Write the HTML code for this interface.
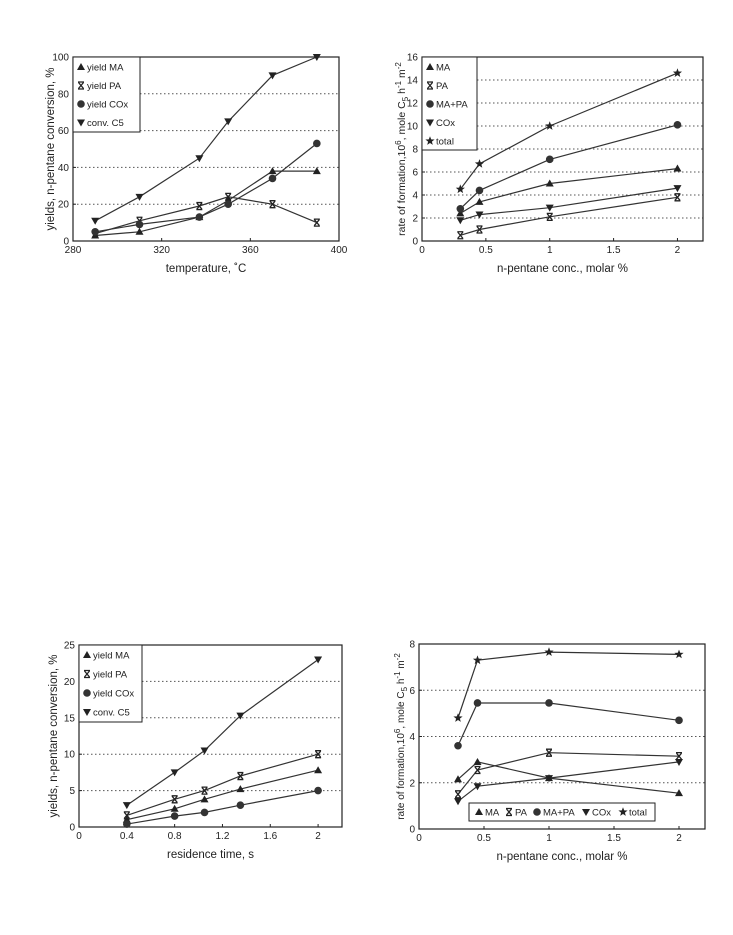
<!DOCTYPE html>
<html><head><meta charset="utf-8"><style>
body{margin:0;background:#fff;}
svg{display:block;font-family:"Liberation Sans",sans-serif;}
</style></head><body>
<svg id="s" width="733" height="935" viewBox="0 0 733 935"></svg>
<script>
// Chart 1 data
const c1Temps=[290,310,337,350,370,390];
const c1MA=[3,5,13,22,38,38];
const c1PA=[4,11,19,24,20,10];
const c1COx=[5,9,13,20,34,53];
const c1Conv=[11,24,45,65,90,100];
const c1XTicks=[280,320,360,400];
const c1YTicks=[0,20,40,60,80,100];
// Chart 2 data
const c2Conc=[0.3,0.45,1,2];
const c2MA=[2.4,3.4,5.0,6.3];
const c2PA=[0.5,1.0,2.1,3.8];
const c2MAPA=[2.8,4.4,7.1,10.1];
const c2COx=[1.8,2.3,2.9,4.6];
const c2Total=[4.5,6.7,10,14.6];
const c2XTicks=[0,0.5,1,1.5,2];
const c2YTicks=[0,2,4,6,8,10,12,14,16];
// Chart 3 data
const c3Time=[0.4,0.8,1.05,1.35,2];
const c3MA=[1.0,2.5,3.8,5.2,7.8];
const c3PA=[1.6,3.8,5.0,7.0,10.0];
const c3COx=[0.4,1.5,2.0,3.0,5.0];
const c3Conv=[3.0,7.5,10.5,15.3,23];
const c3XTicks=[0,0.4,0.8,1.2,1.6,2];
const c3YTicks=[0,5,10,15,20,25];
// Chart 4 data
const c4Conc=[0.3,0.45,1,2];
const c4MA=[2.15,2.9,2.2,1.55];
const c4PA=[1.5,2.55,3.3,3.15];
const c4MAPA=[3.6,5.45,5.45,4.7];
const c4COx=[1.2,1.85,2.2,2.9];
const c4Total=[4.8,7.3,7.65,7.55];
const c4XTicks=[0,0.5,1,1.5,2];
const c4YTicks=[0,2,4,6,8];

const NS="http://www.w3.org/2000/svg";
const svg=document.getElementById('s');
function mk(tag,attrs,parent,txt){const e=document.createElementNS(NS,tag);for(const k in attrs)e.setAttribute(k,attrs[k]);if(txt!==undefined)e.textContent=txt;(parent||svg).appendChild(e);return e;}
function marker(g,type,x,y){
  let e;
  if(type==='up'){e=mk('polygon',{points:`${x},${y-4} ${x-4},${y+3} ${x+4},${y+3}`,fill:'#222'},g);}
  else if(type==='down'){e=mk('polygon',{points:`${x},${y+4} ${x-4},${y-3} ${x+4},${y-3}`,fill:'#222'},g);}
  else if(type==='circle'){e=mk('circle',{cx:x,cy:y,r:3.8,fill:'#333'},g);}
  else if(type==='star'){let p=[];for(let i=0;i<10;i++){const r=i%2?2:4.8;const a=-Math.PI/2+i*Math.PI/5;p.push((x+r*Math.cos(a)).toFixed(1)+','+(y+r*Math.sin(a)).toFixed(1));}e=mk('polygon',{points:p.join(' '),fill:'#222'},g);}
  else {e=mk('path',{d:`M${x-3},${y-3.5}H${x+3}M${x-3},${y+3.5}H${x+3}M${x-2.5},${y-3}L${x+2.5},${y+3}M${x+2.5},${y-3}L${x-2.5},${y+3}`,stroke:'#222','stroke-width':1.3,fill:'none'},g);}
  
  
}
function chart(o){
  const g=mk('g',{},svg);
  
  
  const X=v=>o.L+(v-o.xmin)/(o.xmax-o.xmin)*(o.R-o.L);
  const Y=v=>o.B-(v-o.ymin)/(o.ymax-o.ymin)*(o.B-o.T);
  // grid
  o.yt.forEach(v=>{if(v===o.ymin||v===o.ymax)return;const y=Y(v);let x0=o.L;
    if(o.leg&&y>=o.leg.y&&y<=o.leg.y+o.leg.h)x0=o.leg.x+o.leg.w;
    const gl=mk('line',{x1:x0,x2:o.R,y1:y,y2:y,stroke:'#555','stroke-width':1,'stroke-dasharray':'1.5,2.5'},g);
    
    });
  const fr=mk('rect',{x:o.L,y:o.T,width:o.R-o.L,height:o.B-o.T,fill:'none',stroke:'#222','stroke-width':1.2},g);
  
  
  o.yt.forEach(v=>{const y=Y(v);mk('line',{x1:o.L,x2:o.L+3,y1:y,y2:y,stroke:'#222'},g);
    const t=mk('text',{x:o.L-4,y:y+3.5,'text-anchor':'end','font-size':10,fill:'#222'},g,String(v));
    
    });
  o.xt.forEach(v=>{const x=X(v);mk('line',{x1:x,x2:x,y1:o.B,y2:o.B-3,stroke:'#222'},g);
    const t=mk('text',{x:x,y:o.B+12,'text-anchor':'middle','font-size':10,fill:'#222'},g,String(v));
    
    });
  const xt=mk('text',{x:(o.L+o.R)/2,y:o.B+31,'text-anchor':'middle','font-size':11.5,fill:'#222'},g,o.xtitle);
  
  
  const yt=mk('text',{x:0,y:0,'text-anchor':'middle','font-size':o.ytfs||11.5,fill:'#222',transform:`translate(${o.L-o.ytoff},${(o.T+o.B)/2}) rotate(-90)`},g);
  yt.innerHTML=o.ytitle;
  
  
  o.series.forEach(s=>{
    const pts=o.xs.map((x,i)=>X(x).toFixed(1)+','+Y(s.v[i]).toFixed(1)).join(' ');
    const pl=mk('polyline',{points:pts,fill:'none',stroke:'#333','stroke-width':1.2},g);
    
    
    o.xs.forEach((x,i)=>marker(g,s.m,X(x),Y(s.v[i])));
  });
  if(o.leg){const l=o.leg;
    const lb=mk('rect',{x:l.x,y:l.y,width:l.w,height:l.h,fill:'#fff',stroke:'#222','stroke-width':1},g);
    
    
    o.series.forEach((s,i)=>{let lx,ly;
      if(l.horiz){lx=l.x+10+l.offs[i];ly=l.y+l.h/2;}else{lx=l.x+8;ly=l.y+10+i*l.step;}
      marker(g,s.m,lx,ly);
      const t=mk('text',{x:lx+6,y:ly+3.5,'font-size':9.5,fill:'#222'},g,s.label);
      
      });
  }
}
chart({name:'chart-yield-vs-temperature',L:73,R:339,T:57,B:241,xmin:280,xmax:400,ymin:0,ymax:100,xt:c1XTicks,yt:c1YTicks,xs:c1Temps,
  xtitle:'temperature, ˚C',ytitle:'yields, n-pentane conversion, %',ytoff:19,
  leg:{x:73,y:57,w:67,h:75,step:18.5},
  series:[{id:'ma',m:'up',v:c1MA,label:'yield MA'},{id:'pa',m:'hg',v:c1PA,label:'yield PA'},{id:'cox',m:'circle',v:c1COx,label:'yield COx'},{id:'conv',m:'down',v:c1Conv,label:'conv. C5'}]});
chart({name:'chart-rate-vs-conc',L:422,R:703,T:57,B:241,xmin:0,xmax:2.2,ymin:0,ymax:16,xt:c2XTicks,yt:c2YTicks,xs:c2Conc,
  xtitle:'n-pentane conc., molar %',ytitle:'rate of formation,10<tspan dy="-4" font-size="8">6</tspan><tspan dy="4">, mole C</tspan><tspan dy="3" font-size="8">5</tspan><tspan dy="-3"> h</tspan><tspan dy="-4" font-size="8">-1</tspan><tspan dy="4"> m</tspan><tspan dy="-4" font-size="8">-2</tspan>',ytoff:17,ytfs:10.5,
  leg:{x:422,y:57,w:55,h:93,step:18.5},
  series:[{id:'ma',m:'up',v:c2MA,label:'MA'},{id:'pa',m:'hg',v:c2PA,label:'PA'},{id:'mapa',m:'circle',v:c2MAPA,label:'MA+PA'},{id:'cox',m:'down',v:c2COx,label:'COx'},{id:'total',m:'star',v:c2Total,label:'total'}]});
chart({name:'chart-yield-vs-residence-time',L:79,R:342,T:645,B:827,xmin:0,xmax:2.2,ymin:0,ymax:25,xt:c3XTicks,yt:c3YTicks,xs:c3Time,
  xtitle:'residence time, s',ytitle:'yields, n-pentane conversion, %',ytoff:22,
  leg:{x:79,y:645,w:63,h:77,step:19},
  series:[{id:'ma',m:'up',v:c3MA,label:'yield MA'},{id:'pa',m:'hg',v:c3PA,label:'yield PA'},{id:'cox',m:'circle',v:c3COx,label:'yield COx'},{id:'conv',m:'down',v:c3Conv,label:'conv. C5'}]});
chart({name:'chart-rate-vs-conc-2',L:419,R:705,T:644,B:829,xmin:0,xmax:2.2,ymin:0,ymax:8,xt:c4XTicks,yt:c4YTicks,xs:c4Conc,
  xtitle:'n-pentane conc., molar %',ytitle:'rate of formation,10<tspan dy="-4" font-size="8">6</tspan><tspan dy="4">, mole C</tspan><tspan dy="3" font-size="8">5</tspan><tspan dy="-3"> h</tspan><tspan dy="-4" font-size="8">-1</tspan><tspan dy="4"> m</tspan><tspan dy="-4" font-size="8">-2</tspan>',ytoff:15,ytfs:10,
  leg:{x:469,y:803,w:186,h:18,horiz:true,offs:[0,30,58,107,144]},
  series:[{id:'ma',m:'up',v:c4MA,label:'MA'},{id:'pa',m:'hg',v:c4PA,label:'PA'},{id:'mapa',m:'circle',v:c4MAPA,label:'MA+PA'},{id:'cox',m:'down',v:c4COx,label:'COx'},{id:'total',m:'star',v:c4Total,label:'total'}]});
</script>
</body></html>
